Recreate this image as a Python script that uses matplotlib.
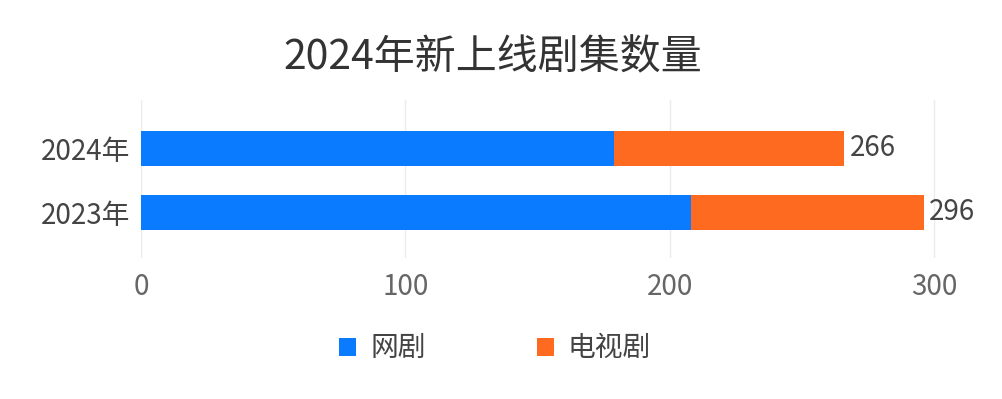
import matplotlib
matplotlib.use("Agg")
import matplotlib.pyplot as plt
from matplotlib.patches import Patch

plt.rcParams['font.family'] = ['Noto Sans CJK SC', 'DejaVu Sans']

categories = ['2023年', '2024年']
web_drama = [208, 179]
tv_drama = [88, 87]
totals = [296, 266]
series_names = ['网剧', '电视剧']
colors = ['#0A7BFF', '#FF6A21']
x_ticks = [0, 100, 200, 300]
title = '2024年新上线剧集数量'

fig = plt.figure(figsize=(10.02, 3.99), dpi=100)
ax = fig.add_axes([0.1407, 0.3534, 0.818, 0.396])

y = list(range(len(categories)))
ax.barh(y, web_drama, height=0.55, color=colors[0], zorder=3)
ax.barh(y, tv_drama, left=web_drama, height=0.55, color=colors[1], zorder=3)
for yi, t in zip(y, totals):
    ax.text(t + 2, yi, str(t), va='center', ha='left', fontsize=20, color='#444444')

ax.set_xlim(0, 310)
ax.set_ylim(-0.72, 1.76)
ax.set_xticks(x_ticks)
ax.set_yticks(y)
ax.set_yticklabels(categories)
ax.tick_params(axis='x', length=0, pad=10, labelsize=20, labelcolor='#666666')
ax.tick_params(axis='y', length=0, pad=8, labelsize=20, labelcolor='#444444')
ax.grid(axis='x', color='#EBEBEB', linewidth=1, zorder=0)
for s in ax.spines.values():
    s.set_visible(False)

fig.text(0.492, 0.855, title, ha='center', va='center', fontsize=29.5, color='#333333')

handles = [Patch(facecolor=c) for c in colors]
fig.legend(handles, series_names, loc='center', bbox_to_anchor=(0.494, 0.127), ncol=2,
           frameon=False, fontsize=20, handlelength=0.62, handleheight=0.62,
           handletextpad=0.5, columnspacing=4.0, labelcolor='#444444')

fig.savefig('out.png', dpi=100)
